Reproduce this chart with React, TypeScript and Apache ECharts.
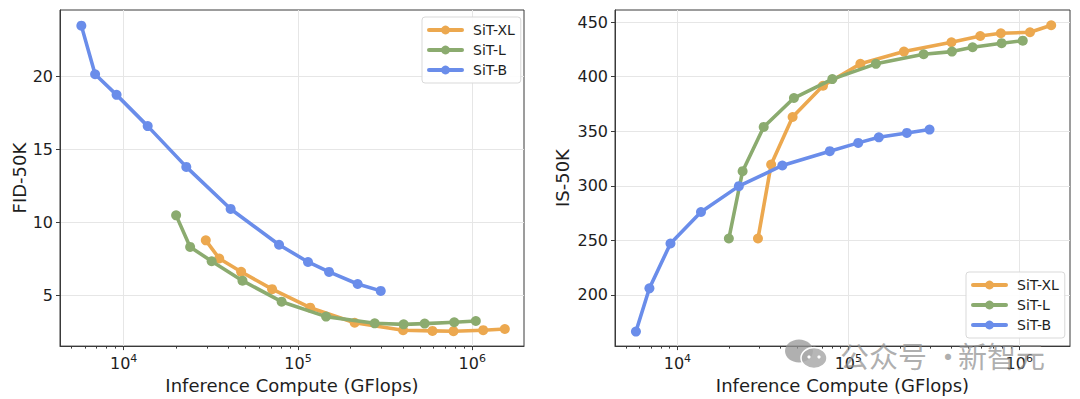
import React, { useEffect, useRef } from "react";
import * as echarts from "echarts";

// Inference compute (GFlops) per sampling setting
const computeXL = [29600, 35350, 47200, 71080, 117600, 211500, 401000, 591000, 780000, 1155000, 1537000];
const computeL = [20000, 24070, 31980, 48050, 80600, 145000, 275600, 403800, 533000, 788000, 1048000];
const computeB = [5720, 6860, 9110, 13740, 22880, 41100, 77900, 114200, 150800, 220000, 298500];

// FID-50K
const fidXL = [8.79, 7.55, 6.64, 5.45, 4.18, 3.15, 2.64, 2.59, 2.57, 2.64, 2.72];
const fidL = [10.5, 8.34, 7.36, 6.03, 4.59, 3.57, 3.11, 3.04, 3.09, 3.18, 3.27];
const fidB = [23.49, 20.16, 18.75, 16.61, 13.82, 10.94, 8.49, 7.31, 6.63, 5.8, 5.33];

// IS-50K
const isXL = [251.7, 319.5, 363, 391.6, 411.7, 422.9, 431.5, 437.2, 439.7, 440.6, 447];
const isL = [251.7, 313.4, 353.9, 380.4, 397.7, 411.7, 420.5, 422.9, 426.9, 430.6, 432.9];
const isB = [166.5, 206.1, 247.2, 276, 299.7, 318.6, 331.7, 339.3, 344.4, 348.4, 351.5];

const seriesNames = ["SiT-XL", "SiT-L", "SiT-B"];
const xMajorTicks = [10000, 100000, 1000000];
const xMinorTicks = [
  5000, 6000, 7000, 8000, 9000,
  20000, 30000, 40000, 50000, 60000, 70000, 80000, 90000,
  200000, 300000, 400000, 500000, 600000, 700000, 800000, 900000,
];
const fidTicks = [5, 10, 15, 20];
const isTicks = [200, 250, 300, 350, 400, 450];

const xRange = [4315, 1980000];
const fidRange = [1.55, 24.56];
const isRange = [153.2, 461];

const COLORS = { xl: "#ECA84F", l: "#8BAB6F", b: "#6A8DEA" };
const FONT = "DejaVu Sans";
const AXIS_COLOR = "#3a3a3a";
const TEXT_COLOR = "#1e1e1e";

function makeSeries(name: string, xs: number[], ys: number[], color: string, xi: number, yi: number, z: number) {
  return {
    type: "line",
    name,
    xAxisIndex: xi,
    yAxisIndex: yi,
    data: xs.map((x, i) => [x, ys[i]]),
    symbol: "circle",
    symbolSize: 10,
    showSymbol: true,
    z,
    lineStyle: { width: 3.6, color, cap: "round", join: "round" },
    itemStyle: { color },
    emphasis: { disabled: true },
  };
}

function mainXAxis(gridIndex: number) {
  return {
    type: "log",
    gridIndex,
    min: xRange[0],
    max: xRange[1],
    position: "bottom",
    name: "Inference Compute (GFlops)",
    nameLocation: "middle",
    nameGap: 26,
    nameTextStyle: { fontFamily: FONT, fontSize: 18, color: TEXT_COLOR },
    axisLine: { show: true, lineStyle: { color: AXIS_COLOR, width: 1 } },
    axisTick: { show: true, customValues: xMajorTicks, length: 4, lineStyle: { color: AXIS_COLOR } },
    axisLabel: {
      customValues: xMajorTicks,
      margin: 7,
      fontFamily: FONT,
      fontSize: 16,
      color: TEXT_COLOR,
      formatter: (v: number) => "10{sup|" + Math.round(Math.log10(v)) + "}",
      rich: { sup: { fontFamily: FONT, fontSize: 11, color: TEXT_COLOR, padding: [0, 0, 9, 0] } },
    },
    splitLine: { show: true, lineStyle: { color: "#e6e6e6", width: 1 } },
  };
}

function minorXAxis(gridIndex: number) {
  return {
    type: "log",
    gridIndex,
    min: xRange[0],
    max: xRange[1],
    position: "bottom",
    axisLine: { show: false },
    axisTick: { show: true, customValues: xMinorTicks, length: 2.5, lineStyle: { color: AXIS_COLOR } },
    axisLabel: { show: false },
    splitLine: { show: false },
  };
}

function yAxis(gridIndex: number, range: number[], ticks: number[], name: string, nameGap: number) {
  return {
    type: "value",
    gridIndex,
    min: range[0],
    max: range[1],
    name,
    nameLocation: "middle",
    nameGap,
    nameTextStyle: { fontFamily: FONT, fontSize: 18, color: TEXT_COLOR },
    axisLine: { show: true, lineStyle: { color: AXIS_COLOR, width: 1 } },
    axisTick: { show: true, customValues: ticks, length: 4, lineStyle: { color: AXIS_COLOR } },
    axisLabel: { customValues: ticks, margin: 7, fontFamily: FONT, fontSize: 16, color: TEXT_COLOR },
    splitLine: { show: true, lineStyle: { color: "#e6e6e6", width: 1 } },
  };
}

function legend(left: number, top: number) {
  return {
    data: seriesNames,
    orient: "vertical",
    left,
    top,
    itemWidth: 33,
    itemHeight: 11,
    itemGap: 6,
    padding: [6, 6, 6, 5],
    backgroundColor: "rgba(255,255,255,0.9)",
    borderColor: "#d9d9d9",
    borderWidth: 1,
    borderRadius: 3,
    selectedMode: false,
    lineStyle: { width: 4 },
    textStyle: { fontFamily: FONT, fontSize: 14, color: TEXT_COLOR, padding: [0, 0, 0, 6] },
  };
}

export default function App() {
  const ref = useRef<HTMLDivElement>(null);
  useEffect(() => {
    if (!ref.current) return;
    const chart = echarts.init(ref.current, undefined, { renderer: "svg" });
    chart.setOption({
      animation: false,
      backgroundColor: "#ffffff",
      grid: [
        { left: 60, top: 10, width: 464, height: 338, show: true, borderColor: AXIS_COLOR, borderWidth: 1, backgroundColor: "transparent" },
        { left: 615, top: 10, width: 455, height: 338, show: true, borderColor: AXIS_COLOR, borderWidth: 1, backgroundColor: "transparent" },
      ],
      xAxis: [mainXAxis(0), minorXAxis(0), mainXAxis(1), minorXAxis(1)],
      yAxis: [yAxis(0, fidRange, fidTicks, "FID-50K", 31), yAxis(1, isRange, isTicks, "IS-50K", 44)],
      legend: [legend(422, 17), legend(966, 272)],
      series: [
        makeSeries("SiT-XL", computeXL, fidXL, COLORS.xl, 0, 0, 2),
        makeSeries("SiT-L", computeL, fidL, COLORS.l, 0, 0, 3),
        makeSeries("SiT-B", computeB, fidB, COLORS.b, 0, 0, 4),
        makeSeries("SiT-XL", computeXL, isXL, COLORS.xl, 2, 1, 2),
        makeSeries("SiT-L", computeL, isL, COLORS.l, 2, 1, 3),
        makeSeries("SiT-B", computeB, isB, COLORS.b, 2, 1, 4),
      ],
      graphic: [
        { type: "ellipse", z: 100, shape: { cx: 799, cy: 351, rx: 14, ry: 11.5 }, style: { fill: "rgba(150,150,150,0.75)" } },
        { type: "ellipse", z: 101, shape: { cx: 814, cy: 358, rx: 13, ry: 10.5 }, style: { fill: "rgba(170,170,170,0.85)", stroke: "#ffffff", lineWidth: 1.5 } },
        { type: "circle", z: 102, shape: { cx: 809, cy: 357, r: 1.6 }, style: { fill: "#ffffff" } },
        { type: "circle", z: 102, shape: { cx: 819, cy: 357, r: 1.6 }, style: { fill: "#ffffff" } },
        {
          type: "text",
          z: 100,
          x: 840,
          y: 355,
          style: {
            text: "公众号 ·",
            font: '29px "Noto Sans CJK SC"',
            fill: "rgba(140,140,140,0.7)",
            verticalAlign: "middle",
            align: "left",
          },
        },
        {
          type: "text",
          z: 100,
          x: 958,
          y: 355,
          style: {
            text: "新智元",
            font: '29px "Noto Sans CJK SC"',
            fill: "rgba(140,140,140,0.7)",
            verticalAlign: "middle",
            align: "left",
          },
        },
      ],
    });
    return () => chart.dispose();
  }, []);
  return <div ref={ref} style={{ position: "absolute", left: 0, top: 0, width: 1080, height: 399 }} />;
}
